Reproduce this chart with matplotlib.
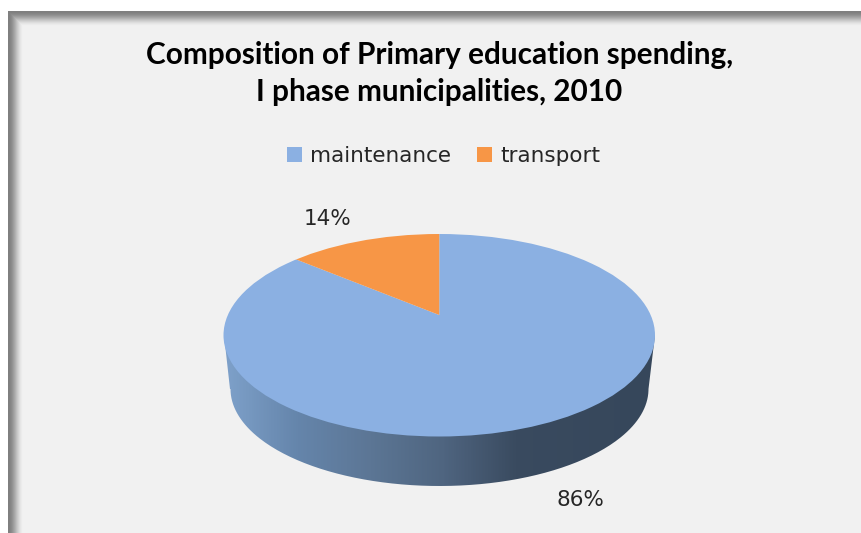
import numpy as np
import matplotlib
matplotlib.use('Agg')
import matplotlib.pyplot as plt
from matplotlib.colors import LinearSegmentedColormap
from matplotlib.patches import Circle, PathPatch
from matplotlib.path import Path

labels = ['maintenance', 'transport']
values = [86, 14]
pct_labels = ['86%', '14%']
colors = ['#8bb0e2', '#f79646']

W, H = 861, 533
fig = plt.figure(figsize=(W / 100, H / 100), dpi=100, facecolor='white')

# background in pixel coordinates
bg = fig.add_axes([0, 0, 1, 1])
bg.set_xlim(0, W)
bg.set_ylim(H, 0)
bg.axis('off')

# grey shadow frame on left and top, fading into the panel
yy, xx = np.mgrid[0:H, 0:W]
d = np.minimum(xx - 8.0, yy - 11.0)
fade = np.clip(d / 15.0, 0, 1)
fade = fade * fade * (3 - 2 * fade)
shade = 0.5 + (0.947 - 0.5) * fade
img = np.dstack([shade, shade, shade])
img[d < 0] = 1.0
bg.imshow(img, extent=(0, W, H, 0), aspect='auto', zorder=0, interpolation='bilinear')
bg.set_xlim(0, W)
bg.set_ylim(H, 0)

# side wall of the 3D pie
t = np.linspace(0, np.pi, 200)
wall_x = np.concatenate([[224, 230], 439.5 - 209 * np.cos(t), [655]])
wall_y = np.concatenate([[335, 389], 389 + 97 * np.sin(t), [335]])
wall_path = Path(np.column_stack([wall_x, wall_y]))
wall = PathPatch(wall_path, transform=bg.transData, fc='none', ec='none')
bg.add_patch(wall)
cmap = LinearSegmentedColormap.from_list(
    'wall', ['#7ea1ca', '#6585ab', '#5c7695', '#4f6580', '#3a4b60', '#36475b'])
grad = np.interp(np.linspace(0, 1, 431), [0, 0.72, 1], [0, 0.85, 1]).reshape(1, -1)
im = bg.imshow(grad, extent=(224, 655, 490, 330), aspect='auto', cmap=cmap, zorder=1)
im.set_clip_path(wall)
bg.set_xlim(0, W)
bg.set_ylim(H, 0)

# pie top, ellipse bounding box in figure fractions
ax = fig.add_axes([223.5 / W, 1 - 436.5 / H, 431.5 / W, 202.5 / H])
ax.patch.set_alpha(0)
wedges, _ = ax.pie(values, colors=colors, startangle=90, counterclock=False)
ax.set_aspect('auto')
ax.set_xlim(-1, 1)
ax.set_ylim(-1, 1)

# the apex sits above the centre in the original projection
rim = Circle((0, 0), 1, transform=ax.transData, fc='none', ec='none')
ax.add_patch(rim)
for w in wedges:
    w.set_center((0, 0.2))
    w.set_radius(1.4)
    w.set_linewidth(0)
    w.set_clip_path(rim)
    w.set_clip_on(True)

fig.text(439.5 / W, 1 - 55 / H, 'Composition of Primary education spending,',
         family='Lato', weight='bold', size=21.4, ha='center', va='center', color='black')
fig.text(439.5 / W, 1 - 92 / H, 'I phase municipalities, 2010',
         family='Lato', weight='bold', size=21.4, ha='center', va='center', color='black')

leg = fig.legend(wedges, labels, ncol=2, frameon=False, loc='center',
                 bbox_to_anchor=(443.5 / W, 1 - 156 / H),
                 prop={'family': 'DejaVu Sans', 'size': 15.5},
                 handlelength=0.7, handleheight=0.7, handletextpad=0.36, columnspacing=1.24,
                 labelcolor='#262626')

fig.text(580 / W, 1 - 500 / H, pct_labels[0], family='DejaVu Sans', size=15.5,
         ha='center', va='center', color='#262626')
fig.text(328 / W, 1 - 219 / H, pct_labels[1], family='DejaVu Sans', size=15.5,
         ha='center', va='center', color='#262626')

fig.savefig('out.png', dpi=100, facecolor='white')
